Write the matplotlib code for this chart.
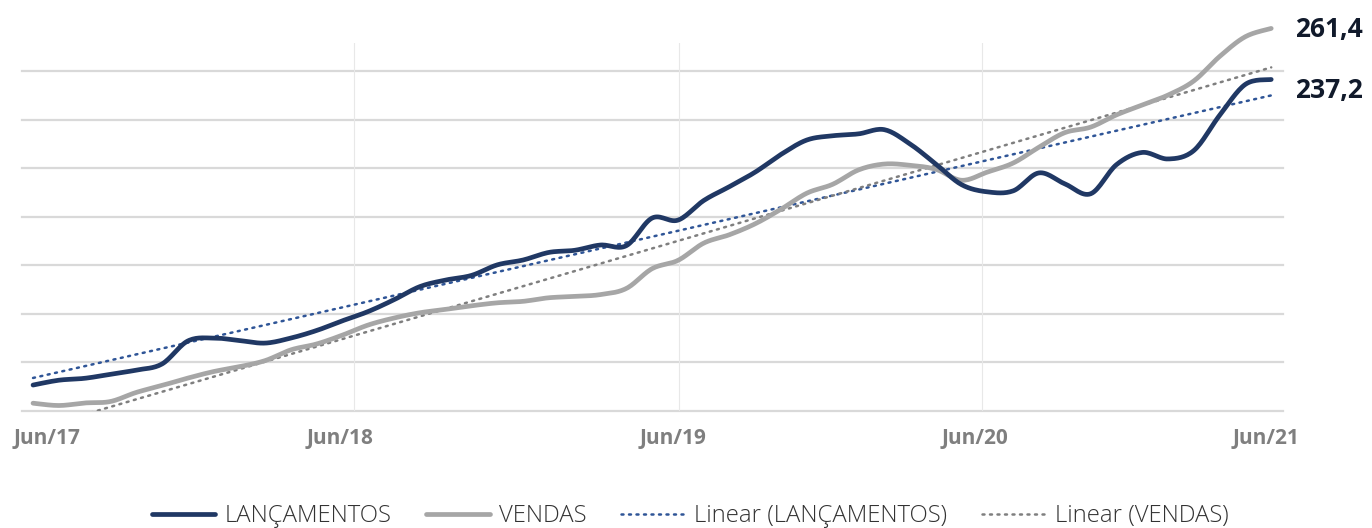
import numpy as np
import matplotlib
matplotlib.use("Agg")
import matplotlib.pyplot as plt
from matplotlib.lines import Line2D

# ---- data (monthly, Jun/17 .. Jun/21) ----
months = list(range(49))
lancamentos = [92.3, 94.6, 95.5, 97.4, 99.4, 102.3, 113.2, 114.6, 113.4, 112.2,
               114.6, 118.2, 122.8, 127.2, 132.8, 139.0, 142.1, 144.3, 149.3, 151.6,
               155.2, 156.2, 158.7, 158.4, 171.5, 170.5, 179.8, 186.4, 193.3, 201.7,
               208.5, 210.5, 211.4, 213.4, 206.6, 197.1, 187.3, 183.9, 184.4, 192.9,
               187.7, 183.0, 196.8, 202.6, 199.5, 203.5, 220.2, 234.9, 237.2]
vendas = [83.7, 82.6, 83.8, 84.5, 88.8, 92.1, 95.6, 98.7, 101.0, 103.9,
          109.0, 111.8, 116.0, 120.8, 124.1, 126.6, 128.2, 129.9, 131.3, 132.0,
          133.7, 134.3, 135.2, 138.1, 147.5, 151.4, 159.6, 163.6, 168.8, 175.7,
          183.3, 187.5, 194.3, 197.1, 196.5, 194.6, 189.4, 193.3, 197.6, 205.1,
          212.0, 214.6, 220.4, 225.1, 229.8, 236.5, 248.1, 257.5, 261.4]
tick_labels = ["Jun/17", "Jun/18", "Jun/19", "Jun/20", "Jun/21"]
tick_pos = [0.55, 11.9, 24.8, 36.5, 47.8]
vgrid_pos = [12.44, 25.04, 36.78]
hgrid_vals = [80, 103, 126, 149, 172, 195, 218, 241]
end_labels = ["237,2", "261,4"]

C_LAN = "#203864"
C_VEN = "#a6a6a6"
C_TL = "#2f5597"
C_TV = "#7f7f7f"


def catmull(x, y, n=16):
    x = np.asarray(x, float)
    y = np.asarray(y, float)
    P = np.column_stack([x, y])
    P = np.vstack([P[0], P, P[-1]])
    out = []
    t = np.linspace(0, 1, n, endpoint=False)[:, None]
    for i in range(1, len(P) - 2):
        p0, p1, p2, p3 = P[i - 1], P[i], P[i + 1], P[i + 2]
        seg = 0.5 * ((2 * p1) + (-p0 + p2) * t + (2 * p0 - 5 * p1 + 4 * p2 - p3) * t ** 2
                     + (-p0 + 3 * p1 - 3 * p2 + p3) * t ** 3)
        out.append(seg)
    out.append(P[-2][None, :])
    out = np.vstack(out)
    return out[:, 0], out[:, 1]


fig = plt.figure(figsize=(13.72, 5.28), dpi=100)
ax = fig.add_axes([0.016, 0.2216, 0.919, 0.697])
ax.set_xlim(-0.43, 48.45)
ax.set_ylim(80, 254.5)

for v in hgrid_vals:
    ax.axhline(v, color="#d9d9d9", lw=1.6, zorder=1, clip_on=False)
for v in vgrid_pos:
    ax.axvline(v, color="#e8e8e8", lw=0.8, zorder=1)

DOT = (0, (0.8, 2.2))
m = np.array(months, float)
for vals, col in ((lancamentos, C_TL), (vendas, C_TV)):
    a, b = np.polyfit(m, vals, 1)
    ax.plot(m, a * m + b, color=col, lw=1.8, ls=DOT,
            dash_capstyle="round", zorder=2)

xs, ys = catmull(months, vendas)
ax.plot(xs, ys, color=C_VEN, lw=3.4, solid_capstyle="round", zorder=3, clip_on=False)
xs, ys = catmull(months, lancamentos)
ax.plot(xs, ys, color=C_LAN, lw=3.4, solid_capstyle="round", zorder=4, clip_on=False)

lab_font = dict(family="Open Sans", fontweight="bold", fontsize=19, color="#111a2b")
ax.annotate(end_labels[0], xy=(months[-1], lancamentos[-1]), xytext=(17, -8),
            textcoords="offset points", ha="left", va="center", annotation_clip=False,
            **lab_font)
ax.annotate(end_labels[1], xy=(months[-1], vendas[-1]), xytext=(17, -1),
            textcoords="offset points", ha="left", va="center", annotation_clip=False,
            **lab_font)

ax.set_xticks(tick_pos)
ax.set_xticklabels(tick_labels, family="Open Sans", fontweight="bold",
                   fontsize=15, color="#7f7f7f")
ax.tick_params(axis="x", length=0, pad=12)
ax.set_yticks([])
for s in ax.spines.values():
    s.set_visible(False)

handles = [
    Line2D([], [], color=C_LAN, lw=3.4, solid_capstyle="round"),
    Line2D([], [], color=C_VEN, lw=3.4, solid_capstyle="round"),
    Line2D([], [], color=C_TL, lw=1.8, ls=DOT, dash_capstyle="round"),
    Line2D([], [], color=C_TV, lw=1.8, ls=DOT, dash_capstyle="round"),
]
labels = ["LANÇAMENTOS", "VENDAS", "Linear (LANÇAMENTOS)", "Linear (VENDAS)"]
leg = fig.legend(handles, labels, loc="center", bbox_to_anchor=(0.503, 0.022),
                 ncol=4, frameon=False, handlelength=2.65, handletextpad=0.4,
                 columnspacing=1.45, prop=dict(family="Open Sans", size=17.2, weight="light"))
for t in leg.get_texts():
    t.set_color("#333333")

fig.savefig("out.png", dpi=100)
